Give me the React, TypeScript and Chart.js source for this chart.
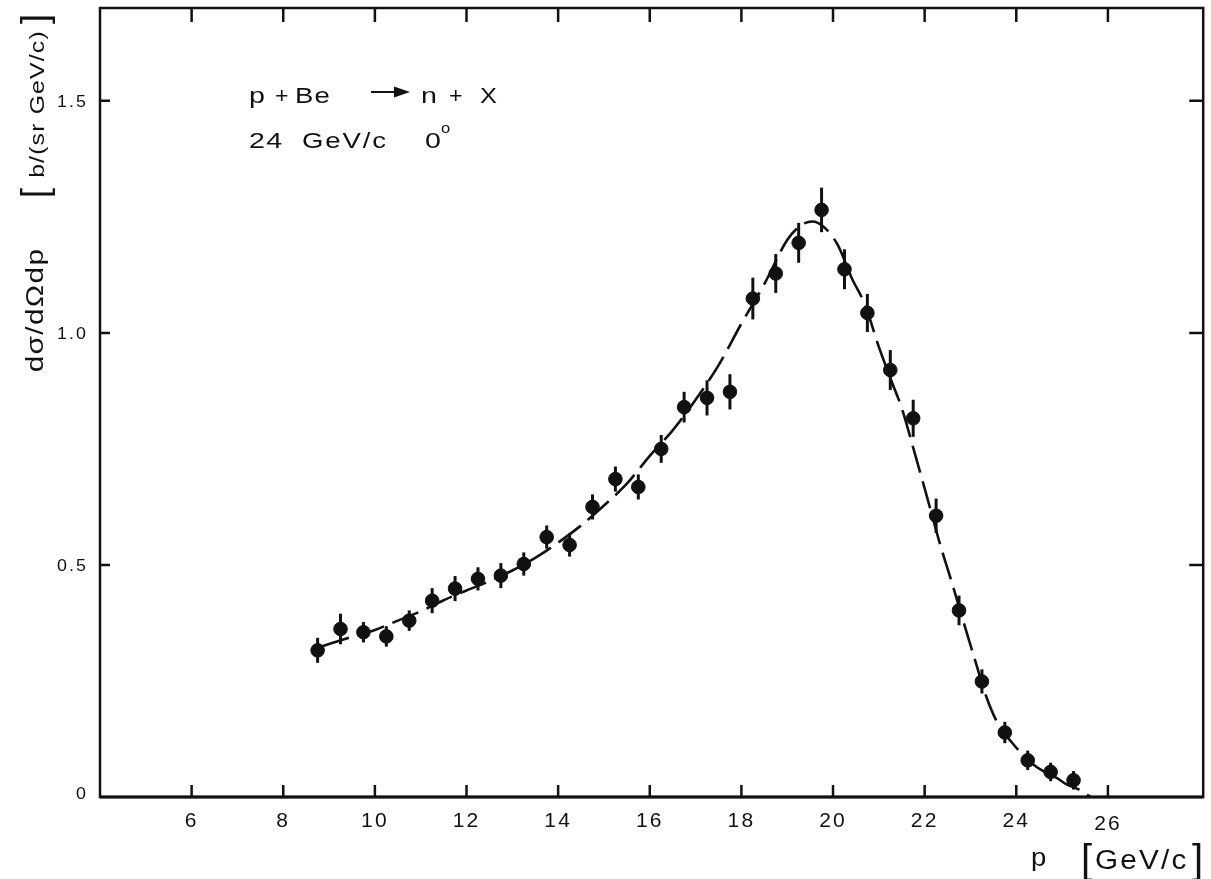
import React, { useEffect, useRef } from "react";
import { Chart, registerables } from "chart.js";

Chart.register(...registerables);

// ---- data ----
const momentum = [
  8.75, 9.25, 9.75, 10.25, 10.75, 11.25, 11.75, 12.25, 12.75, 13.25, 13.75, 14.25,
  14.75, 15.25, 15.75, 16.25, 16.75, 17.25, 17.75, 18.25, 18.75, 19.25, 19.75,
  20.25, 20.75, 21.25, 21.75, 22.25, 22.75, 23.25, 23.75, 24.25, 24.75, 25.25,
];
const crossSection = [
  0.316, 0.362, 0.355, 0.346, 0.38, 0.423, 0.449, 0.47, 0.477, 0.502, 0.56, 0.543,
  0.625, 0.685, 0.668, 0.75, 0.84, 0.86, 0.873, 1.074, 1.128, 1.194, 1.265,
  1.137, 1.043, 0.92, 0.816, 0.606, 0.402, 0.249, 0.139, 0.079, 0.054, 0.036,
];
const errorHalf = [
  0.027, 0.033, 0.022, 0.022, 0.022, 0.027, 0.027, 0.025, 0.027, 0.025, 0.025, 0.025,
  0.027, 0.027, 0.027, 0.03, 0.033, 0.038, 0.038, 0.045, 0.042, 0.043, 0.048,
  0.043, 0.041, 0.043, 0.04, 0.037, 0.032, 0.026, 0.023, 0.021, 0.02, 0.02,
];
const curveP = [
  8.85, 9.5, 10.0, 10.5, 11.0, 11.5, 12.0, 12.5, 13.0, 13.5, 14.0, 14.5, 15.0, 15.5,
  16.0, 16.5, 17.0, 17.5, 18.0, 18.5, 19.0, 19.3, 19.55, 19.8, 20.1, 20.4, 20.7, 21.0,
  21.3, 21.5, 21.8, 22.0, 22.35, 22.6, 22.9, 23.1, 23.35, 23.6, 23.9, 24.15, 24.4,
  24.6, 24.9, 25.1, 25.35, 25.63,
];
const curveValues = [
  0.325, 0.345, 0.36, 0.38, 0.4, 0.424, 0.445, 0.465, 0.488, 0.515, 0.548, 0.585,
  0.628, 0.675, 0.735, 0.79, 0.856, 0.93, 1.02, 1.105, 1.2, 1.232, 1.24, 1.228, 1.19,
  1.12, 1.06, 0.97, 0.89, 0.838, 0.735, 0.665, 0.54, 0.46, 0.36, 0.295, 0.215, 0.158,
  0.118, 0.09, 0.068, 0.055, 0.04, 0.027, 0.017, 0.0,
];
const xTickValues = [6, 8, 10, 12, 14, 16, 18, 20, 22, 24, 26];
const yTickValues = [0, 0.5, 1.0, 1.5];
const yTickLabels = ["0", "0.5", "1.0", "1.5"];

const INK = "#111111";
const FONT = "'Liberation Sans', Arial, Helvetica, sans-serif";

function drawText(
  ctx: CanvasRenderingContext2D,
  text: string,
  x: number,
  y: number,
  size: number,
  stretch = 1,
  spacing = 0,
  align: CanvasTextAlign = "left",
  rotate = 0,
  baseline: CanvasTextBaseline = "alphabetic"
) {
  ctx.save();
  ctx.translate(x, y);
  if (rotate) ctx.rotate(rotate);
  ctx.scale(stretch, 1);
  ctx.font = `${size}px ${FONT}`;
  (ctx as any).letterSpacing = `${spacing}px`;
  ctx.textAlign = align;
  ctx.textBaseline = baseline;
  ctx.fillText(text, 0, 0);
  ctx.restore();
}

const decorPlugin = {
  id: "decor",
  beforeDatasetsDraw(chart: any) {
    const { ctx, scales } = chart;
    const xs = scales.x;
    const ys = scales.y;
    ctx.save();
    ctx.strokeStyle = INK;
    ctx.lineWidth = 3;
    ctx.lineCap = "butt";
    momentum.forEach((p, i) => {
      const v = crossSection[i];
      const e = errorHalf[i];
      const px = xs.getPixelForValue(p);
      ctx.beginPath();
      ctx.moveTo(px, ys.getPixelForValue(v - e));
      ctx.lineTo(px, ys.getPixelForValue(v + e));
      ctx.stroke();
    });
    ctx.restore();
  },
  afterDraw(chart: any) {
    const { ctx, chartArea, scales } = chart;
    const xs = scales.x;
    const ys = scales.y;
    const { left, right, top, bottom } = chartArea;
    ctx.save();
    ctx.strokeStyle = INK;
    ctx.fillStyle = INK;
    // frame
    ctx.lineWidth = 2.5;
    ctx.strokeRect(left, top, right - left, bottom - top);
    ctx.lineWidth = 3;
    ctx.beginPath();
    ctx.moveTo(left, bottom);
    ctx.lineTo(right, bottom);
    ctx.stroke();
    // x ticks (inward, top and bottom)
    ctx.lineWidth = 2.5;
    xTickValues.forEach((v) => {
      const px = xs.getPixelForValue(v);
      ctx.beginPath();
      ctx.moveTo(px, bottom);
      ctx.lineTo(px, bottom - 12);
      ctx.moveTo(px, top);
      ctx.lineTo(px, top + 14);
      ctx.stroke();
    });
    // y ticks (inward, left and right)
    yTickValues.forEach((v) => {
      if (v === 0) return;
      const py = ys.getPixelForValue(v);
      ctx.beginPath();
      ctx.moveTo(left, py);
      ctx.lineTo(left + 10, py);
      ctx.moveTo(right, py);
      ctx.lineTo(right - 14, py);
      ctx.stroke();
    });
    // tick labels
    xTickValues.forEach((v) => {
      drawText(ctx, String(v), xs.getPixelForValue(v), bottom + 30 + (v === 26 ? 3 : 0), 20, 1.05, 2, "center");
    });
    yTickValues.forEach((v, i) => {
      drawText(ctx, yTickLabels[i], left - 12, ys.getPixelForValue(v) + (v === 0 ? 2 : 6), 17, 1.05, 2, "right");
    });

    // y axis title (rotated)
    drawText(ctx, "dσ/dΩdp", 43, 310, 23, 1.3, 1, "center", -Math.PI / 2);
    drawText(ctx, "b/(sr GeV/c)", 44, 104, 21, 1.18, 1, "center", -Math.PI / 2);
    drawText(ctx, "[", 47, 198, 36, 1, 0, "left", -Math.PI / 2);
    drawText(ctx, "]", 47, 14, 36, 1, 0, "right", -Math.PI / 2);

    // x axis title
    drawText(ctx, "p", 1031, 866, 25, 1.1, 0);
    drawText(ctx, "[", 1081, 873, 40, 1, 0);
    drawText(ctx, "]", 1192, 873, 40, 1, 0);
    drawText(ctx, "GeV/c", 1095, 869, 27, 1.1, 2);

    // annotation
    drawText(ctx, "p", 249, 103, 22, 1.3);
    drawText(ctx, "+", 275, 103, 22, 1.05);
    drawText(ctx, "Be", 295, 103, 22, 1.25, 1);
    drawText(ctx, "n", 421, 103, 22, 1.3);
    drawText(ctx, "+", 449, 103, 22, 1.05);
    drawText(ctx, "X", 480, 103, 22, 1.15);
    ctx.lineWidth = 2;
    ctx.beginPath();
    ctx.moveTo(371, 92);
    ctx.lineTo(398, 92);
    ctx.stroke();
    ctx.beginPath();
    ctx.moveTo(410, 92);
    ctx.lineTo(394, 86.5);
    ctx.lineTo(394, 97.5);
    ctx.closePath();
    ctx.fill();
    drawText(ctx, "24", 249, 148, 22, 1.3, 1);
    drawText(ctx, "GeV/c", 302, 148, 22, 1.25, 1.5);
    drawText(ctx, "0", 425, 148, 22, 1.3);
    drawText(ctx, "o", 441, 133, 15, 1.1);
    ctx.restore();
  },
};

export default function App() {
  const canvasRef = useRef<HTMLCanvasElement | null>(null);

  useEffect(() => {
    document.body.style.margin = "0";
    const canvas = canvasRef.current;
    if (!canvas) return;
    const chart = new Chart(canvas, {
      type: "scatter",
      data: {
        datasets: [
          {
            type: "line",
            label: "fit",
            data: curveP.map((p, i) => ({ x: p, y: curveValues[i] })),
            borderColor: INK,
            borderWidth: 2.6,
            borderDash: [28, 9],
            pointRadius: 0,
            fill: false,
            cubicInterpolationMode: "monotone",
            order: 2,
          } as any,
          {
            type: "scatter",
            label: "data",
            data: momentum.map((p, i) => ({ x: p, y: crossSection[i] })),
            pointRadius: 6.8,
            pointStyle: "circle",
            backgroundColor: INK,
            borderColor: INK,
            borderWidth: 1,
            order: 1,
          },
        ],
      },
      options: {
        responsive: false,
        animation: false,
        devicePixelRatio: 1,
        layout: { padding: { left: 100, top: 8, right: 4, bottom: 82 } },
        plugins: {
          legend: { display: false },
          tooltip: { enabled: false },
        },
        events: [],
        scales: {
          x: { type: "linear", display: false, min: 4, max: 28.08 },
          y: { type: "linear", display: false, min: 0, max: 1.7 },
        },
      },
      plugins: [decorPlugin],
    });
    return () => chart.destroy();
  }, []);

  return (
    <div style={{ position: "absolute", left: 0, top: 0, width: 1211, height: 879, background: "#fff" }}>
      <canvas ref={canvasRef} width={1211} height={879} style={{ display: "block" }} />
    </div>
  );
}
